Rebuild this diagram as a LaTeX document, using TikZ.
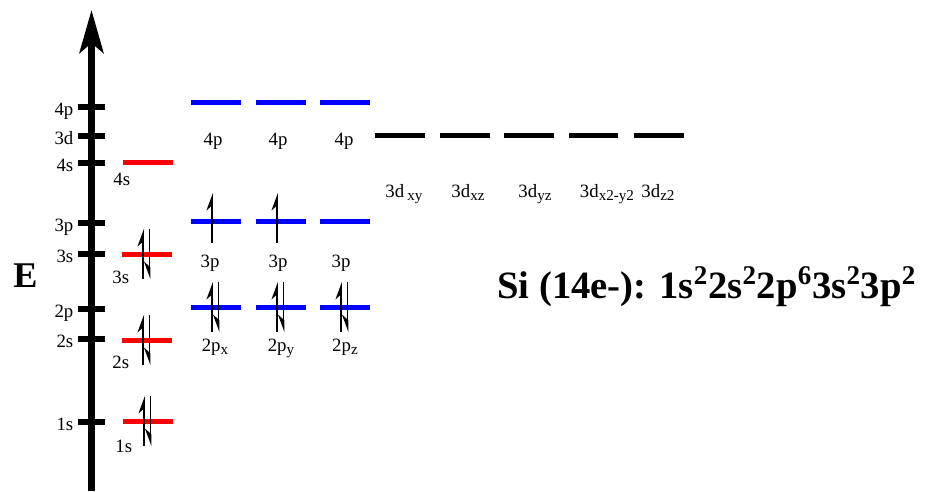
\documentclass[tikz,border=0pt]{standalone}
\usepackage{fontspec}
\setmainfont{Liberation Serif}
\usetikzlibrary{arrows.meta, calc}
\newcommand{\orbsub}[1]{\raisebox{-0.35ex}{\fontsize{8.6}{9}\selectfont #1}}
\tikzset{
  orb/.style={rectangle, inner sep=0pt, minimum width=1cm, minimum height=0.1cm, fill=#1},
  sorb/.style={orb=red},
  porb/.style={orb=blue},
  dorb/.style={orb=black},
  tickmark/.style={rectangle, inner sep=0pt, minimum width=0.54cm, minimum height=0.12cm, fill=black},
  lbl/.style={inner sep=0pt, font=\fontsize{10.7}{12}\selectfont},
  ticklabel/.style={lbl, anchor=base east},
  slabel/.style={lbl, anchor=base west},
  orblabel/.style={lbl, anchor=base},
  axis/.style={line width=0.13cm, -{Stealth[length=0.86cm, width=0.48cm, inset=0.2cm]}},
  spinup/.style={line width=1pt, -{Stealth[harpoon, length=0.3cm, width=0.22cm]}},
  spindown/.style={line width=1pt, -{Stealth[harpoon, swap, length=0.3cm, width=0.22cm]}},
}
\begin{document}
\begin{tikzpicture}[x=0.02cm, y=-0.02cm]
  \useasboundingbox (0,0) rectangle (934,491);

  % energy axis
  \coordinate (axbot) at (91.5,491);
  \coordinate (axtop) at (91.5,10);
  \draw[axis] (axbot) -- (axtop);
  \node[font=\fontsize{20.6}{24}\selectfont\bfseries, anchor=base west, inner sep=0pt] (E) at (13,287) {E};

  \foreach \n/\y in {1s/422, 2s/339, 2p/309, 3s/254, 3p/223, 4s/163, 3d/136, 4p/107} {
    \node[tickmark] (t\n) at (91.5,\y) {};
    \node[ticklabel] (l\n) at ($(t\n.west)+(-4,8)$) {\n};
  }

  % s orbitals
  \node[sorb] (o1s) at (148,421) {};
  \node[sorb] (o2s) at (147,340) {};
  \node[sorb] (o3s) at (147,254) {};
  \node[sorb] (o4s) at (148,162) {};
  \node[slabel] (n1s) at (115,452) {1s};
  \node[slabel] (n2s) at (112,368) {2s};
  \node[slabel] (n3s) at (112,283) {3s};
  \node[slabel] (n4s) at (113,185) {4s};

  % p orbitals
  \foreach \k/\x in {x/216, y/281, z/345} {
    \node[porb] (p2\k) at (\x,307) {};
    \node[porb] (p3\k) at (\x,221) {};
    \node[porb] (p4\k) at (\x,102) {};
  }
  \node[orblabel] (m4x) at (213,145) {4p};
  \node[orblabel] (m4y) at (278,145) {4p};
  \node[orblabel] (m4z) at (344,145) {4p};
  \node[orblabel] (m3x) at (210,267) {3p};
  \node[orblabel] (m3y) at (278,267) {3p};
  \node[orblabel] (m3z) at (341,267) {3p};
  \node[orblabel] (m2x) at (215,351) {2p\orbsub{x}};
  \node[orblabel] (m2y) at (281,351) {2p\orbsub{y}};
  \node[orblabel] (m2z) at (345,351) {2p\orbsub{z}};

  % d orbitals
  \foreach \k/\x in {1/400, 2/465, 3/529, 4/593.5, 5/659}
    \node[dorb] (d\k) at (\x,135) {};
  \node[orblabel] (q1) at (404,197) {3d\,\orbsub{xy}};
  \node[orblabel] (q2) at (468,197) {3d\orbsub{xz}};
  \node[orblabel] (q3) at (535,197) {3d\orbsub{yz}};
  \node[orblabel] (q4) at (607,197) {3d\orbsub{x2-y2}};
  \node[orblabel] (q5) at (658,197) {3d\orbsub{z2}};

  % electrons
  \foreach \o in {o1s, o2s, o3s, p2x, p2y, p2z} {
    \draw[spinup] ($(\o)+(-4,25)$) -- ($(\o)+(-4,-25)$);
    \draw[spindown] ($(\o)+(2.5,-25)$) -- ($(\o)+(2.5,25)$);
  }
  \foreach \o in {p3x, p3y}
    \draw[spinup] ($(\o)+(-4,22)$) -- ($(\o)+(-4,-28)$);

  \node[font=\fontsize{22}{26}\selectfont\bfseries, anchor=base west, inner sep=0pt] (config) at (497,298)
    {Si (14e-): 1s\textsuperscript{2}2s\textsuperscript{2}2p\textsuperscript{6}3s\textsuperscript{2}3p\textsuperscript{2}};
\end{tikzpicture}
\end{document}
